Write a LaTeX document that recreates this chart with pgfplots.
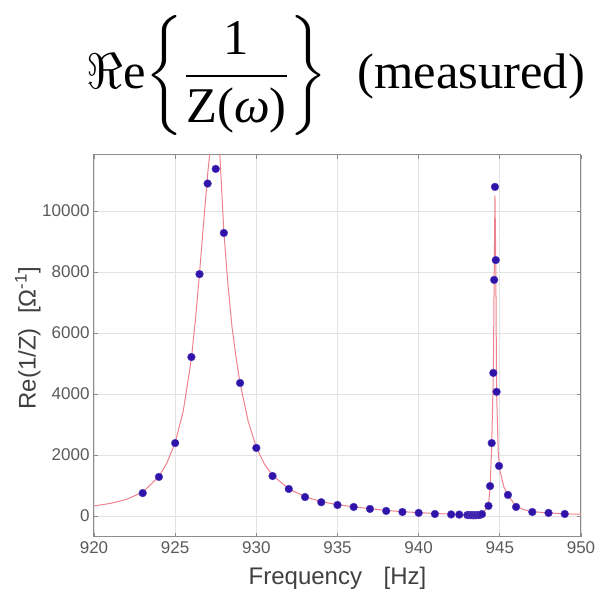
\documentclass[border=0pt]{standalone}
\usepackage{amsmath}
\usepackage{pgfplots}
\pgfplotsset{compat=1.18}
\usepackage{fontspec}
\setmainfont{Liberation Serif}
\newfontfamily\arial{Liberation Sans}
\definecolor{dotc}{RGB}{48,20,170}
\definecolor{fitc}{RGB}{238,130,140}
\definecolor{axc}{RGB}{140,140,140}
\definecolor{tickc}{RGB}{90,90,90}
\begin{document}
\begin{tikzpicture}[x=1pt,y=1pt]
\useasboundingbox (-94,-52) rectangle (504,537);
\begin{axis}[
  at={(0,0)}, anchor=south west,
  scale only axis, width=487pt, height=382pt,
  xmin=920, xmax=950, ymin=-690, ymax=11836,
  xtick={920,925,930,935,940,945,950},
  xticklabels={920,925,930,935,940,945,950},
  ytick={0,2000,4000,6000,8000,10000},
  yticklabels={0,2000,4000,6000,8000,10000},
  scaled y ticks=false, scaled x ticks=false,
  tick align=inside, major tick length=4pt,
  xtick pos=both, ytick pos=both,
  grid=major,
  grid style={gray!22, line width=0.8pt},
  axis line style={axc, line width=1pt},
  tick style={axc, line width=0.8pt},
  ticklabel style={font=\arial\fontsize{17}{17}\selectfont, text=tickc},
  xticklabel style={yshift=-1pt},
  yticklabel style={xshift=-1pt},
  xlabel={Frequency\hspace{0.9em}[Hz]},
  ylabel={Re(1/Z)\hspace{0.6em}[Ω\textsuperscript{-1}]},
  label style={font=\arial\fontsize{24}{24}\selectfont, text=black!75},
  xlabel style={at={(axis description cs:0.5,-0.107)}, anchor=center},
  ylabel style={at={(axis description cs:-0.136,0.52)}, anchor=center},
  clip=true,
]
\addplot[fitc, line width=1pt] coordinates {
(920,330) (921,410) (922,545) (923,780) (924,1290) (924.5,1750) (925,2400)
(925.5,3450) (926,5150) (926.25,6450) (926.5,7950) (926.75,9600) (927,11200)
(927.25,12500) (927.5,12700) (927.75,11900) (928,9300) (928.25,7600) (928.5,6200)
(928.75,5200) (929,4350) (929.5,3100) (930,2250) (930.5,1700) (931,1330)
(932,890) (933,630) (934,470) (935,370) (936,300) (937,240) (938,180) (939,140)
(940,110) (941,80) (942,60) (943,40) (943.5,40) (943.8,70) (944,130) (944.2,260)
(944.3,380) (944.4,900) (944.5,2300) (944.6,4700) (944.65,7700) (944.7,10500)
(944.75,8400) (944.8,4100) (944.9,2100) (945,1500) (945.25,950) (945.5,680)
(946,320) (946.5,200) (947,140) (948,100) (949,70) (950,55)
};
\addplot[only marks, mark=*, mark size=3.9pt, mark options={fill=dotc, draw=dotc!80!white}] coordinates {
(923,750) (924,1280) (925,2390) (926,5210) (926.5,7930) (927,10900) (927.5,11380)
(928,9280) (929,4360) (930,2230) (931,1310) (932,885) (933,620) (934,450)
(935,360) (936,295) (937,230) (938,165) (939,130) (940,100) (941,65) (942,50)
(942.5,45) (943,30) (943.1,28) (943.2,27) (943.3,25) (943.4,25) (943.5,25)
(943.6,27) (943.7,30) (943.8,40) (943.9,60) (944.3,330) (944.4,980) (944.5,2390)
(944.6,4690) (944.65,7740) (944.7,10790) (944.75,8390) (944.8,4070) (944.95,1640)
(945.5,690) (946,295) (947,130) (948,100) (949,65)
};
\end{axis}
\node[anchor=center, inner sep=0pt] at (242,461)
  {\resizebox*{498pt}{120pt}{\Huge $\displaystyle \Re\text{e}\!\left\{\frac{\text{1}}{\text{Z(\textit{ω})}}\right\}$\hspace{0.6em}(measured)}};
\end{tikzpicture}
\end{document}
